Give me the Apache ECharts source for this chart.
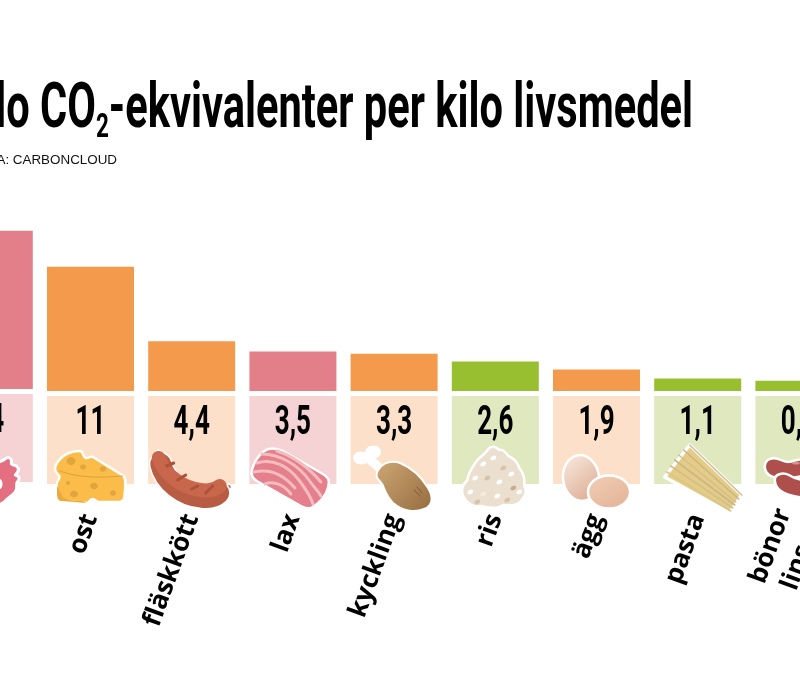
<!DOCTYPE html>
<html><head><meta charset="utf-8">
<style>html,body{margin:0;padding:0;background:#fff}#c{width:800px;height:698px}</style>
<script src="https://cdn.jsdelivr.net/npm/echarts@6/dist/echarts.min.js"></script>
</head><body><div id="c"></div>
<script>
const titleText = 'Kilo CO{s|2}-ekvivalenter per kilo livsmedel';
const sourceText = 'KÄLLA: CARBONCLOUD';
const categories = ['nötkött','ost','fläskkött','lax','kyckling','ris','ägg','pasta','bönor\nlinser'];
const values = [14, 11, 4.4, 3.5, 3.3, 2.6, 1.9, 1.1, 0.9];
const groups = ['red','orange','orange','red','orange','green','orange','green','green'];
const strong = {red:'#E37F89', orange:'#F49A4D', green:'#97BF30'};
const pale = {red:'#F5D2D3', orange:'#FCE0C9', green:'#DFE8BF'};

const W = '#ffffff';
const lg = (a,b,x2,y2)=>({type:'linear',x:0,y:0,x2:x2===undefined?1:x2,y2:y2===undefined?1:y2,colorStops:[{offset:0,color:a},{offset:1,color:b}]});
const P = (d,fill,stroke,lw,extra)=>({type:'path',shape:{pathData:d},style:Object.assign({fill:fill||'none',stroke:stroke||'none',lineWidth:lw||0,lineJoin:'round',lineCap:'round'},extra||{})});
const E = (x,y,rx,ry,fill,stroke,lw,rot)=>({type:'ellipse',shape:{cx:0,cy:0,rx:rx,ry:ry},x:x,y:y,rotation:rot||0,style:{fill:fill,stroke:stroke||'none',lineWidth:lw||0}});

// Icons in local coordinates: x from column centre, y from tile top
const icons = {
 'nötkött':()=>{const d='M15.7,65 C19,62 23,64 22,69 C22,72 26,70 28,73 C31,76 28,79 26,81 C30,82 31,85 28,88 C26,90 29,94 26,98 C23,102 20,103 18,105 C14,110 8,112 4,110 C-10,106 -14,90 -6,76 C0,68 10,70 15.7,65 Z';
  return [P(d,'#E36F80',W,3),E(10.7,90,2.5,5,W)];},
 'ost':()=>{const d='M-18.5,56 C-14,55 -10,54 -8.5,56 C-7,60 -6,62 -4,62 C-2,62 0,60 2.5,61 L33,80 C36,83 35,90 34,100 C34,104 32,106 28,106 L8,106 C5,106 5,103 2,103 C-1,103 -1,107 -4,107 L-28,105 C-33,104 -33.5,102 -33.5,98 L-34,89 C-34,85 -31,84 -31,81 C-31,78 -35.5,78 -35.5,73 C-35,66 -27,58 -18.5,56 Z';
  return [P(d,'#FBBC4A',W,2.5),
   P('M-33.5,90 L-33.5,98 C-33,104 -32,105 -28,105 L-4,107 L-8,105 C-20,105 -28,104 -29,98 Z','#E9A93C'),
   P('M-31,75 C-12,82 10,82 32,80','none','#DDA23A',1),
   E(-19.5,65,4.5,4,'#E0A53C'),E(-7.5,71,3,2.5,'#E0A53C'),E(12.5,73,3.2,2.8,'#E0A53C'),E(-22.5,87,2,2,'#E0A53C'),E(3.5,90,3.8,3.3,'#E0A53C'),E(-16.5,98,4,3.2,'#E0A53C'),E(22.5,97,3,2.8,'#E0A53C')];},
 'fläskkött':()=>{const c='M-31,68 C-27,86 -8,100 9,101 C16,102 22,102 27,97';
  return [P('M-33,57 L-31,66 M27,97 L37,91','none',W,7),P('M-33,57 L-31,66 M27,97 L37,91','none','#C9654B',4),
   P(c,'none',W,24),P(c,'none','#B85C43',21),
   P('M-33,62 C-27,80 -8,92 9,94 C16,95 22,95 28,90','none','#C9674C',14),
   P('M-25,70 L-18,67 M-14,84 L-6,79 M0,93 L6,90 M14,97 L21,90','none','#A9533A',3)];},
 'lax':()=>{const d='M-30,56 C-24,51 -18,52 -10,55 L30,78 C36,82 37,84 35,92 C33,100 26,108 18,112 C15,113 12,112 8,110 L-36,85 C-41,82 -42,78 -41,74 C-39,67 -36,61 -30,56 Z';
  return [P(d,'#E57F8B',W,2.5),
   P('M-36,67 C-20,62 -5,70 6,84 C12,92 18,100 20,108 M-39,76 C-22,72 -8,80 2,92 M-31,58 C-12,58 6,70 16,84 C20,90 26,96 28,100 M-16,55 C0,60 16,72 28,86 M-28,88 C-18,84 -8,90 -2,98','none','#F3BDBF',3)];},
 'kyckling':()=>{const d='M-17,76 C-12,66 -2,64 6,67 C18,72 28,82 34,92 C40,102 38,110 30,113 C20,117 8,115 -1,107 C-8,100 -10,92 -12,88 C-15,84 -19,82 -17,76 Z';
  return [P('M-26,62 L-10,76','none',W,9),E(-33,62,8,6.5,W),E(-21,56,8,6.5,W),
   P(d,lg('#CFA876','#946B3E',1,1),W,2),
   P('M20,94 L26,100 M23,91 L28,97','none','#7F5B38',1)];},
 'ris':()=>{const d='M-6,52 C-2,49 2,52 4,54 C8,53 11,57 13,60 C18,62 22,66 24,72 C28,76 30,84 29,90 C32,94 30,100 27,103 C24,110 14,110 8,109 C2,113 -8,112 -14,110 C-22,112 -30,106 -32,100 C-35,94 -32,88 -28,84 C-27,76 -22,70 -18,64 C-14,60 -10,58 -6,52 Z';
  const dots=[[-12,68,'#FFF'],[-2,62,'#FFF'],[8,72,'#D9C3A8'],[16,78,'#FFF'],[-20,82,'#FFF'],[-8,82,'#D9C3A8'],[4,86,'#FFF'],[18,92,'#C7AE92'],[-25,96,'#FFF'],[-12,98,'#F5EBDD'],[2,100,'#FFF'],[12,104,'#D9C3A8'],[24,96,'#FFF'],[-18,106,'#D9C3A8']];
  return [P(d,'#EBDFCF',W,2.5)].concat(dots.map(a=>E(a[0],a[1],3.2,2.2,a[2],'none',0,0.6)));},
 'ägg':()=>[E(-15.5,82,18,23,lg('#F9EDE3','#DDAA90',.8,1),W,2.5,0.12),E(12.5,96,21,16.5,lg('#F0D0B8','#E6B79B',0.5,1),W,2.5)],
 'pasta':()=>{const lines=[['-8,49','44,99','#CFC09A'],['-14,54','41,103','#C9B68A'],['-19,59','38,106','#D2BF8F'],['-23,64','37,109','#C9B68A'],['-27,70','35,112','#D2BF8F'],['-31,76','33,115','#D9C48A']];
  return [P('M-8,49 L44,99 L32,117 L-33,81 Z','#E5CC85',W,3.5)].concat(lines.map(l=>P('M'+l[0]+' L'+l[1],'none',l[2],1.6)));},
 'bönor\nlinser':()=>[
   P('M-34,72 C-35,63 -26,60 -18,64 C-12,67 -8,66 -2,64 C6,62 12,66 12,72 C12,80 -4,82 -14,82 C-24,83 -33,80 -34,72 Z','#AF4F4C',W,2.5),
   P('M-24,85 C-25,78 -16,76 -10,79 C-4,83 2,84 8,84 L20,84 L20,102 C4,103 -23,100 -24,85 Z','#AF4F4C',W,2.5),
   E(-3,67,4,1.6,'#D98F8A')]
};

function money(v){return String(v).replace('.',',');}
const both = (first)=>categories.map((c,i)=>(i===0)===first?values[i]:null);
const tiles = (first)=>categories.map((c,i)=>(i===0)===first?1:null);

const gridL=-61.3, gridW=910.8;
function mkCustom(first,xi,yi,z){
  return {type:'custom',xAxisIndex:xi,yAxisIndex:yi,z:z,silent:true,clip:false,
    data:categories.map((c,i)=>[i,(i===0)===first?1:0]),
    renderItem:(params,api)=>{
      const i=api.value(0);
      if(!api.value(1))return null;
      const p=api.coord([i,1]);
      const kids=icons[categories[i]]();
      return {type:'group',x:p[0],y:p[1],children:[
        {type:'text',x:0,y:28,scaleX:0.65,style:{text:money(values[i]),fill:'#000',font:'bold 40px Roboto',textAlign:'center',textVerticalAlign:'middle'}}
      ].concat(kids)};
    }};
}
const hiddenX=(gi,show)=>({type:'category',gridIndex:gi,data:categories,axisLine:{show:false},axisTick:{show:false},splitLine:{show:false},
   axisLabel:show?{show:true,interval:0,rotate:70,margin:31,color:'#000',fontFamily:'Open Sans',fontWeight:700,fontSize:26,lineHeight:32}:{show:false}});
const hiddenY=(gi,max)=>({type:'value',gridIndex:gi,min:0,max:max,axisLine:{show:false},axisTick:{show:false},splitLine:{show:false},axisLabel:{show:false}});

const chart=echarts.init(document.getElementById('c'),null,{renderer:'canvas'});
chart.setOption({
  animation:false,
  backgroundColor:'#fff',
  grid:[
    {left:gridL,width:gridW,top:165,height:226,outerBoundsMode:'none'},
    {left:gridL,width:gridW,top:396,height:88,outerBoundsMode:'none'},
    {left:gridL,width:gridW,top:163,height:226,outerBoundsMode:'none'},
    {left:gridL,width:gridW,top:394,height:88,outerBoundsMode:'none'}
  ],
  xAxis:[hiddenX(0),hiddenX(1,true),hiddenX(2),hiddenX(3)],
  yAxis:[hiddenY(0,20),hiddenY(1,1),hiddenY(2,20),hiddenY(3,1)],
  series:[
    {type:'bar',xAxisIndex:0,yAxisIndex:0,barWidth:87,data:both(false),itemStyle:{color:p=>strong[groups[p.dataIndex]]}},
    {type:'bar',xAxisIndex:1,yAxisIndex:1,barWidth:87,data:tiles(false),itemStyle:{color:p=>pale[groups[p.dataIndex]]}},
    {type:'bar',xAxisIndex:2,yAxisIndex:2,barWidth:87,data:both(true),itemStyle:{color:p=>strong[groups[p.dataIndex]]}},
    {type:'bar',xAxisIndex:3,yAxisIndex:3,barWidth:87,data:tiles(true),itemStyle:{color:p=>pale[groups[p.dataIndex]]}},
    mkCustom(false,1,1,5),
    mkCustom(true,3,3,5)
  ],
  graphic:[
    {type:'text',x:693,y:111,scaleX:0.66,style:{text:titleText,fill:'#000',textAlign:'right',textVerticalAlign:'middle',
      font:'bold 63px Roboto',rich:{s:{font:'bold 34px Roboto',fill:'#000',padding:[34,0,0,0]}}}},
    {type:'text',x:117,y:160,style:{text:sourceText,fill:'#111',textAlign:'right',textVerticalAlign:'middle',font:'13.4px "Liberation Sans"'}}
  ]
});
</script></body></html>
